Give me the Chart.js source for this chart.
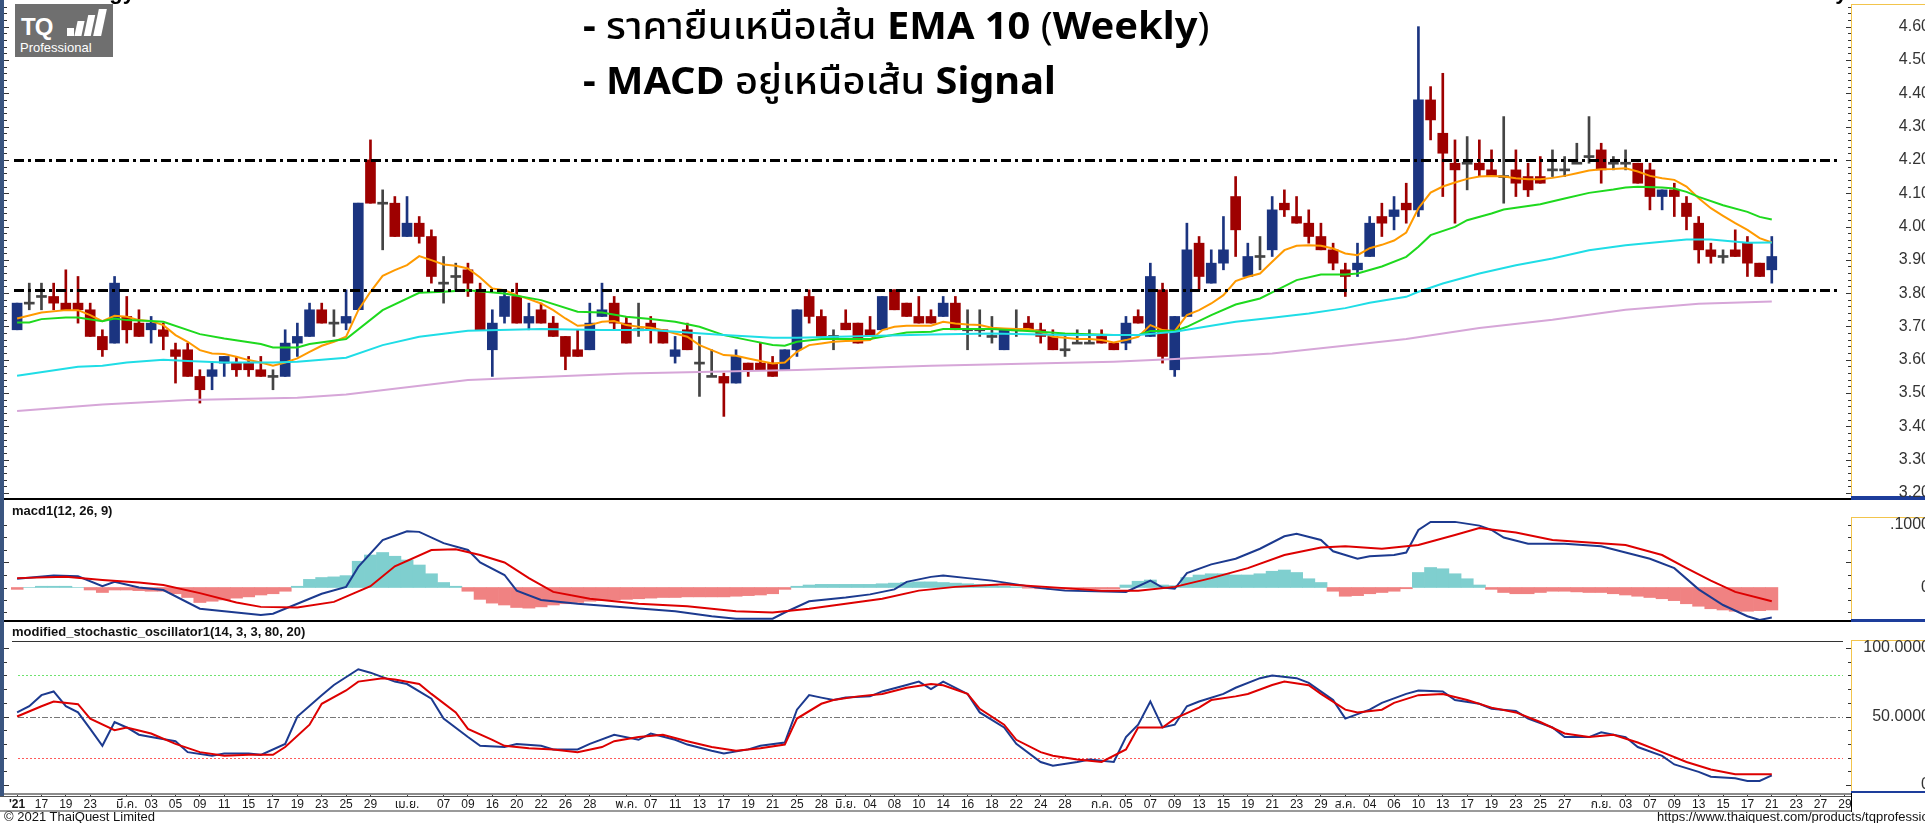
<!DOCTYPE html>
<html lang="th">
<head>
<meta charset="utf-8">
<title>TQ Professional chart</title>
<script src="https://cdn.jsdelivr.net/npm/chart.js@4.4.1/dist/chart.umd.min.js"></script>
<style>
  html, body { margin: 0; padding: 0; background: #fff; }
  body { width: 1925px; height: 823px; overflow: hidden; position: relative; font-family: Arial, "Liberation Sans", sans-serif; }
  .pane { position: absolute; left: 0; }
  .bar { position: absolute; }
  #strip { position: absolute; left: 0; top: 0; width: 4px; height: 796px; background: #3a5580; z-index: 5; }
  .plabel { position: absolute; left: 12px; font: bold 13px Arial, sans-serif; color: #111; white-space: nowrap; }
  .title { position: absolute; left: 583px; white-space: nowrap; font-family: "Noto Sans", "Noto Sans Thai", "Open Sans", sans-serif; font-size: 38px; line-height: 1.2; color: #000; transform-origin: 0 50%; }
  .title b { font-weight: 700; }
  .title .th { font-weight: 500; }
  .title .par { font-weight: 400; }
  .cut { position: absolute; font: bold 22px Arial, sans-serif; line-height: 22px; color: #000; white-space: nowrap; }
  #logo { position: absolute; left: 15px; top: 4px; width: 98px; height: 53px; background: #6f6f6f; overflow: hidden; }
  #tq { position: absolute; left: 6px; top: 9px; font: bold 24px Arial, sans-serif; color: #fff; letter-spacing: -1px; }
  #pro { position: absolute; left: 5px; top: 36px; font: 13px Arial, sans-serif; color: #fff; }
  .ib { position: absolute; background: #fff; }
  .foot { position: absolute; top: 809px; font: 13px Arial, sans-serif; color: #111; white-space: nowrap; }
</style>
</head>
<body>
<div id="strip"></div>

<div class="pane" style="top:0px"><canvas id="priceChart" width="1930" height="498"></canvas></div>
<div class="bar" style="left:0;top:498px;width:1851px;height:2px;background:#000"></div>
<div class="bar" style="left:1851px;top:498px;width:74px;height:2px;background:#1d3d9b"></div>

<div class="pane" style="top:501px"><canvas id="macdChart" width="1930" height="120"></canvas></div>
<div class="bar" style="left:0;top:620px;width:1851px;height:2px;background:#000"></div>
<div class="bar" style="left:1851px;top:620px;width:74px;height:2px;background:#1d3d9b"></div>

<div class="pane" style="top:622px"><canvas id="stochChart" width="1930" height="192"></canvas></div>

<div class="cut" style="left:47px;top:-19px">Strategy</div>
<div class="cut" style="left:1772px;top:-19px">Weekly</div>
<div id="logo">
  <span id="tq">TQ</span>
  <div class="ib" style="left:52px;top:24px;width:7px;height:8px"></div>
  <div class="ib" style="left:61px;top:17px;width:7px;height:15px;transform:skewX(-12deg)"></div>
  <div class="ib" style="left:71px;top:11px;width:7px;height:21px;transform:skewX(-12deg)"></div>
  <div class="ib" style="left:81px;top:5px;width:8px;height:27px;transform:skewX(-12deg)"></div>
  <span id="pro">Professional</span>
</div>
<div id="t1" class="title" style="top:2px"><b>- </b><span class="th">ราคายืนเหนือเส้น</span> <b>EMA 10</b> <span class="par">(</span><b>Weekly</b><span class="par">)</span></div>
<div id="t2" class="title" style="top:57px"><b>- MACD</b> <span class="th">อยู่เหนือเส้น</span> <b>Signal</b></div>

<div class="plabel" style="top:503px">macd1(12, 26, 9)</div>
<div class="plabel" style="top:624px">modified_stochastic_oscillator1(14, 3, 3, 80, 20)</div>

<div class="foot" style="left:4px">© 2021 ThaiQuest Limited</div>
<div class="foot" style="left:1657px">https://www.thaiquest.com/products/tqprofessional</div>

<script>
// trading days, Feb 15 - Sep 29 2021 (last six are future slots on the axis)
const tradingDays = [
  ['02', [15, 16, 17, 18, 19, 22, 23, 24, 25]],
  ['03', [1, 2, 3, 4, 5, 8, 9, 10, 11, 12, 15, 16, 17, 18, 19, 22, 23, 24, 25, 26, 29, 30, 31]],
  ['04', [1, 2, 5, 7, 8, 9, 12, 16, 19, 20, 21, 22, 23, 26, 27, 28, 29, 30]],
  ['05', [5, 6, 7, 10, 11, 12, 13, 14, 17, 18, 19, 20, 21, 24, 25, 27, 28, 31]],
  ['06', [1, 2, 4, 7, 8, 9, 10, 11, 14, 15, 16, 17, 18, 21, 22, 23, 24, 25, 28, 29, 30]],
  ['07', [1, 2, 5, 6, 7, 8, 9, 12, 13, 14, 15, 16, 19, 20, 21, 22, 23, 27, 29, 30]],
  ['08', [2, 3, 4, 5, 6, 9, 10, 11, 13, 16, 17, 18, 19, 20, 23, 24, 25, 26, 27, 30, 31]],
  ['09', [1, 2, 3, 6, 7, 8, 9, 10, 13, 14, 15, 16, 17, 20, 21, 22, 23, 24, 27, 28, 29]]
];

// date labels shown under the chart: [day index, text]
const dateTicks = [
  [0, "'21"], [2, '17'], [4, '19'], [6, '23'], [9, 'มี.ค.'], [11, '03'], [13, '05'], [15, '09'], [17, '11'],
  [19, '15'], [21, '17'], [23, '19'], [25, '23'], [27, '25'], [29, '29'], [32, 'เม.ย.'], [35, '07'], [37, '09'],
  [39, '16'], [41, '20'], [43, '22'], [45, '26'], [47, '28'], [50, 'พ.ค.'], [52, '07'], [54, '11'], [56, '13'],
  [58, '17'], [60, '19'], [62, '21'], [64, '25'], [66, '28'], [68, 'มิ.ย.'], [70, '04'], [72, '08'], [74, '10'],
  [76, '14'], [78, '16'], [80, '18'], [82, '22'], [84, '24'], [86, '28'], [89, 'ก.ค.'], [91, '05'], [93, '07'],
  [95, '09'], [97, '13'], [99, '15'], [101, '19'], [103, '21'], [105, '23'], [107, '29'], [109, 'ส.ค.'], [111, '04'],
  [113, '06'], [115, '10'], [117, '13'], [119, '17'], [121, '19'], [123, '23'], [125, '25'], [127, '27'],
  [130, 'ก.ย.'], [132, '03'], [134, '07'], [136, '09'], [138, '13'], [140, '15'], [142, '17'], [144, '21'],
  [146, '23'], [148, '27'], [150, '29']
];

// daily candles
const opens = [3.69, 3.77, 3.79, 3.79, 3.77, 3.77, 3.75, 3.67, 3.65, 3.73, 3.71, 3.69, 3.69, 3.63, 3.63, 3.55, 3.55, 3.59, 3.59, 3.59,
  3.57, 3.55, 3.55, 3.65, 3.67, 3.75, 3.71, 3.71, 3.75, 4.20, 4.07, 4.07, 3.97, 4.01, 3.97, 3.83, 3.85, 3.87, 3.81, 3.63,
  3.73, 3.79, 3.71, 3.75, 3.71, 3.67, 3.63, 3.63, 3.73, 3.77, 3.71, 3.69, 3.71, 3.69, 3.61, 3.69, 3.59, 3.55, 3.55, 3.53,
  3.59, 3.59, 3.59, 3.57, 3.63, 3.79, 3.73, 3.67, 3.71, 3.71, 3.69, 3.69, 3.81, 3.77, 3.73, 3.73, 3.73, 3.77, 3.69, 3.69,
  3.67, 3.63, 3.69, 3.71, 3.69, 3.67, 3.63, 3.65, 3.65, 3.67, 3.65, 3.65, 3.73, 3.67, 3.81, 3.57, 3.73, 3.95, 3.83, 3.89,
  4.09, 3.85, 3.91, 3.93, 4.07, 4.03, 4.01, 3.97, 3.93, 3.87, 3.87, 3.91, 4.03, 4.03, 4.07, 4.05, 4.38, 4.28, 4.19, 4.19,
  4.19, 4.17, 4.15, 4.17, 4.15, 4.15, 4.17, 4.17, 4.19, 4.21, 4.23, 4.19, 4.19, 4.19, 4.17, 4.09, 4.11, 4.07, 4.01, 3.93,
  3.91, 3.93, 3.95, 3.89, 3.87];
const highs = [3.77, 3.83, 3.83, 3.83, 3.87, 3.85, 3.77, 3.69, 3.85, 3.79, 3.75, 3.73, 3.71, 3.65, 3.65, 3.57, 3.59, 3.61, 3.61, 3.61,
  3.61, 3.57, 3.69, 3.71, 3.77, 3.77, 3.75, 3.81, 4.07, 4.26, 4.11, 4.09, 4.09, 4.03, 3.99, 3.91, 3.89, 3.89, 3.83, 3.75,
  3.81, 3.83, 3.77, 3.77, 3.73, 3.67, 3.69, 3.77, 3.83, 3.79, 3.73, 3.77, 3.73, 3.69, 3.67, 3.71, 3.67, 3.63, 3.56, 3.63,
  3.59, 3.65, 3.61, 3.63, 3.75, 3.81, 3.75, 3.69, 3.75, 3.71, 3.73, 3.79, 3.81, 3.77, 3.79, 3.75, 3.79, 3.79, 3.75, 3.75,
  3.73, 3.69, 3.75, 3.73, 3.71, 3.69, 3.67, 3.69, 3.69, 3.69, 3.65, 3.73, 3.75, 3.89, 3.83, 3.73, 4.01, 3.97, 3.93, 4.03,
  4.15, 3.95, 3.97, 4.09, 4.11, 4.09, 4.05, 4.01, 3.95, 3.89, 3.95, 4.03, 4.07, 4.09, 4.13, 4.60, 4.42, 4.46, 4.26, 4.27,
  4.26, 4.23, 4.33, 4.23, 4.19, 4.21, 4.23, 4.21, 4.25, 4.33, 4.25, 4.21, 4.23, 4.19, 4.19, 4.11, 4.13, 4.09, 4.03, 3.95,
  3.93, 3.99, 3.97, 3.89, 3.97];
const lows = [3.69, 3.75, 3.75, 3.75, 3.75, 3.71, 3.67, 3.61, 3.65, 3.65, 3.67, 3.65, 3.63, 3.53, 3.55, 3.47, 3.51, 3.55, 3.55, 3.55,
  3.55, 3.51, 3.55, 3.61, 3.67, 3.71, 3.67, 3.69, 3.75, 4.07, 3.93, 3.97, 3.97, 3.95, 3.83, 3.77, 3.81, 3.79, 3.69, 3.55,
  3.71, 3.71, 3.69, 3.71, 3.67, 3.57, 3.61, 3.63, 3.73, 3.69, 3.65, 3.67, 3.65, 3.65, 3.59, 3.63, 3.49, 3.55, 3.43, 3.53,
  3.55, 3.57, 3.55, 3.57, 3.61, 3.71, 3.67, 3.63, 3.69, 3.65, 3.67, 3.69, 3.75, 3.73, 3.71, 3.71, 3.73, 3.69, 3.63, 3.67,
  3.65, 3.63, 3.67, 3.69, 3.65, 3.63, 3.61, 3.65, 3.65, 3.65, 3.63, 3.63, 3.71, 3.67, 3.59, 3.55, 3.73, 3.81, 3.83, 3.87,
  3.91, 3.85, 3.87, 3.91, 4.03, 4.01, 3.95, 3.93, 3.87, 3.79, 3.85, 3.91, 3.97, 3.99, 4.01, 4.03, 4.26, 4.09, 4.01, 4.11,
  4.15, 4.15, 4.07, 4.09, 4.09, 4.13, 4.15, 4.15, 4.19, 4.19, 4.13, 4.17, 4.17, 4.13, 4.05, 4.05, 4.03, 3.99, 3.89, 3.89,
  3.89, 3.91, 3.85, 3.85, 3.83];
const closes = [3.77, 3.77, 3.79, 3.77, 3.75, 3.75, 3.67, 3.63, 3.83, 3.69, 3.67, 3.71, 3.67, 3.61, 3.55, 3.51, 3.57, 3.61, 3.57, 3.57,
  3.55, 3.55, 3.65, 3.67, 3.75, 3.71, 3.71, 3.73, 4.07, 4.07, 4.07, 3.97, 4.01, 3.97, 3.85, 3.83, 3.85, 3.83, 3.69, 3.71,
  3.79, 3.71, 3.73, 3.71, 3.67, 3.61, 3.61, 3.71, 3.75, 3.71, 3.65, 3.69, 3.69, 3.65, 3.63, 3.63, 3.59, 3.55, 3.53, 3.61,
  3.57, 3.57, 3.55, 3.63, 3.75, 3.73, 3.67, 3.67, 3.69, 3.65, 3.67, 3.79, 3.75, 3.73, 3.71, 3.71, 3.77, 3.69, 3.69, 3.69,
  3.67, 3.69, 3.69, 3.69, 3.67, 3.63, 3.63, 3.65, 3.65, 3.65, 3.63, 3.71, 3.71, 3.85, 3.61, 3.73, 3.93, 3.85, 3.89, 3.93,
  3.99, 3.91, 3.91, 4.05, 4.05, 4.01, 3.97, 3.93, 3.89, 3.85, 3.89, 4.01, 4.01, 4.05, 4.05, 4.38, 4.32, 4.22, 4.17, 4.19,
  4.17, 4.15, 4.15, 4.13, 4.11, 4.13, 4.17, 4.17, 4.19, 4.21, 4.17, 4.19, 4.19, 4.13, 4.09, 4.11, 4.09, 4.03, 3.93, 3.91,
  3.91, 3.91, 3.89, 3.85, 3.91];

// moving averages: [day index, value]
const emaOrange = [[0, 3.724], [2, 3.742], [4, 3.749], [5, 3.749], [6, 3.734], [7, 3.716], [8, 3.732], [9, 3.729], [10, 3.719],
  [11, 3.716], [12, 3.704], [13, 3.674], [14, 3.654], [15, 3.629], [16, 3.619], [17, 3.617], [18, 3.609], [19, 3.599], [20, 3.592],
  [21, 3.582], [22, 3.592], [23, 3.604], [24, 3.624], [25, 3.642], [26, 3.654], [27, 3.669], [28, 3.749], [29, 3.804], [30, 3.852],
  [31, 3.869], [32, 3.884], [33, 3.911], [34, 3.899], [35, 3.886], [36, 3.882], [37, 3.874], [38, 3.847], [39, 3.814], [40, 3.809],
  [41, 3.794], [42, 3.782], [43, 3.769], [44, 3.749], [45, 3.724], [46, 3.702], [47, 3.704], [48, 3.714], [49, 3.716], [50, 3.704],
  [51, 3.699], [52, 3.696], [53, 3.689], [54, 3.679], [55, 3.669], [56, 3.644], [57, 3.629], [58, 3.614], [59, 3.612], [60, 3.604],
  [61, 3.596], [62, 3.589], [63, 3.592], [64, 3.624], [65, 3.644], [66, 3.649], [67, 3.654], [68, 3.656], [69, 3.657], [70, 3.659],
  [71, 3.689], [72, 3.699], [73, 3.702], [74, 3.702], [75, 3.702], [76, 3.714], [77, 3.709], [78, 3.706], [79, 3.704], [80, 3.696],
  [81, 3.694], [82, 3.692], [83, 3.692], [84, 3.684], [85, 3.669], [86, 3.666], [87, 3.662], [88, 3.662], [89, 3.659], [90, 3.652],
  [91, 3.659], [92, 3.669], [93, 3.704], [94, 3.689], [95, 3.686], [96, 3.734], [97, 3.749], [98, 3.769], [99, 3.794], [100, 3.836],
  [101, 3.849], [102, 3.859], [103, 3.894], [104, 3.929], [105, 3.942], [106, 3.944], [107, 3.942], [108, 3.934], [109, 3.919],
  [110, 3.914], [111, 3.935], [112, 3.945], [113, 3.958], [114, 3.982], [115, 4.055], [116, 4.102], [117, 4.120], [118, 4.132],
  [119, 4.143], [120, 4.150], [121, 4.152], [122, 4.150], [123, 4.145], [124, 4.142], [125, 4.142], [126, 4.146], [127, 4.152],
  [128, 4.160], [129, 4.168], [130, 4.172], [131, 4.173], [132, 4.175], [133, 4.165], [134, 4.152], [135, 4.145], [136, 4.140],
  [137, 4.120], [138, 4.085], [139, 4.055], [140, 4.032], [141, 4.010], [142, 3.990], [143, 3.965], [144, 3.952]];
const emaGreen = [[0, 3.712], [1, 3.712], [2, 3.722], [4, 3.727], [5, 3.727], [7, 3.716], [8, 3.724], [9, 3.719], [11, 3.716],
  [12, 3.714], [15, 3.677], [17, 3.664], [20, 3.647], [21, 3.637], [23, 3.637], [24, 3.647], [27, 3.662], [30, 3.749], [33, 3.801],
  [35, 3.804], [37, 3.809], [40, 3.799], [43, 3.779], [46, 3.744], [48, 3.742], [50, 3.729], [52, 3.722], [54, 3.714], [56, 3.699],
  [58, 3.674], [60, 3.659], [62, 3.644], [63, 3.642], [64, 3.654], [66, 3.662], [68, 3.662], [70, 3.662], [71, 3.669], [73, 3.682],
  [75, 3.684], [76, 3.692], [80, 3.692], [84, 3.684], [86, 3.679], [90, 3.674], [92, 3.674], [93, 3.686], [95, 3.686], [96, 3.699],
  [98, 3.734], [100, 3.766], [102, 3.784], [103, 3.802], [105, 3.839], [107, 3.856], [109, 3.856], [110, 3.859], [112, 3.880],
  [114, 3.909], [115, 3.939], [116, 3.974], [118, 3.999], [119, 4.019], [121, 4.039], [122, 4.051], [125, 4.067], [127, 4.084],
  [129, 4.101], [131, 4.111], [132, 4.117], [133, 4.119], [135, 4.117], [136, 4.114], [137, 4.104], [138, 4.089], [140, 4.064],
  [142, 4.044], [143, 4.029], [144, 4.021]];
const emaCyan = [[0, 3.552], [5, 3.579], [7, 3.582], [9, 3.592], [12, 3.600], [14, 3.596], [17, 3.592], [21, 3.592], [23, 3.594],
  [27, 3.606], [30, 3.644], [33, 3.669], [37, 3.687], [43, 3.692], [48, 3.689], [52, 3.689], [58, 3.674], [62, 3.666], [64, 3.666],
  [75, 3.676], [80, 3.679], [86, 3.674], [92, 3.674], [95, 3.684], [100, 3.714], [103, 3.726], [106, 3.739], [109, 3.755],
  [111, 3.771], [114, 3.789], [115, 3.804], [117, 3.829], [120, 3.859], [123, 3.884], [126, 3.904], [129, 3.929], [132, 3.944],
  [135, 3.954], [137, 3.961], [139, 3.961], [142, 3.951], [144, 3.952]];
const emaPlum = [[0, 3.446], [7, 3.466], [14, 3.479], [23, 3.486], [27, 3.496], [37, 3.539], [50, 3.559], [64, 3.569], [75, 3.582],
  [90, 3.594], [95, 3.602], [103, 3.619], [111, 3.650], [114, 3.662], [120, 3.695], [126, 3.720], [132, 3.750], [138, 3.768],
  [144, 3.775]];
const levelLines = [4.20, 3.81];
const priceTicks = [3.2, 3.3, 3.4, 3.5, 3.6, 3.7, 3.8, 3.9, 4.0, 4.1, 4.2, 4.3, 4.4, 4.5, 4.6];

// MACD(12, 26, 9)
const macdLine = [[0, 0.014], [3, 0.019], [5, 0.018], [7, 0.002], [8, 0.009], [10, 0.000], [12, -0.004], [15, -0.034], [18, -0.040],
  [20, -0.044], [21, -0.042], [23, -0.026], [25, -0.010], [27, 0.001], [28, 0.033], [30, 0.076], [32, 0.090], [33, 0.089],
  [35, 0.071], [37, 0.060], [38, 0.040], [40, 0.020], [41, -0.005], [43, -0.020], [46, -0.026], [50, -0.032], [54, -0.038],
  [57, -0.046], [59, -0.050], [62, -0.050], [63, -0.040], [65, -0.022], [68, -0.016], [70, -0.011], [72, -0.003], [73, 0.009],
  [75, 0.017], [76, 0.019], [78, 0.015], [80, 0.011], [82, 0.005], [84, -0.001], [86, -0.005], [91, -0.007], [93, 0.011],
  [94, 0.000], [95, -0.002], [96, 0.023], [98, 0.037], [100, 0.046], [102, 0.062], [104, 0.082], [105, 0.086], [107, 0.076],
  [108, 0.058], [110, 0.046], [111, 0.050], [113, 0.052], [114, 0.056], [115, 0.092], [116, 0.105], [118, 0.105], [120, 0.099],
  [121, 0.092], [122, 0.080], [124, 0.070], [127, 0.070], [130, 0.066], [132, 0.056], [134, 0.046], [136, 0.031], [138, -0.003],
  [140, -0.028], [142, -0.046], [143, -0.052], [144, -0.048]];
const signalLine = [[0, 0.015], [4, 0.017], [7, 0.012], [10, 0.008], [12, 0.004], [15, -0.009], [18, -0.024], [20, -0.031],
  [23, -0.032], [26, -0.023], [29, 0.002], [31, 0.034], [34, 0.060], [36, 0.061], [38, 0.052], [40, 0.040], [42, 0.015],
  [44, -0.007], [47, -0.018], [51, -0.026], [55, -0.030], [59, -0.038], [62, -0.040], [65, -0.034], [68, -0.026], [71, -0.018],
  [74, -0.005], [77, 0.001], [81, 0.005], [86, -0.001], [89, -0.005], [92, -0.005], [95, 0.001], [98, 0.015], [101, 0.031],
  [104, 0.052], [107, 0.064], [109, 0.066], [112, 0.062], [115, 0.068], [118, 0.084], [120, 0.095], [123, 0.088], [126, 0.076],
  [129, 0.072], [132, 0.068], [135, 0.052], [137, 0.031], [139, 0.011], [141, -0.007], [144, -0.022]];
const macdHist = [-0.003, 0, 0.002, 0.002, 0.002, 0, -0.004, -0.008, -0.004, -0.004, -0.005, -0.006, -0.006, -0.010, -0.016,
  -0.024, -0.022, -0.020, -0.017, -0.015, -0.012, -0.010, -0.006, 0.002, 0.013, 0.016, 0.017, 0.019, 0.042, 0.052, 0.056, 0.050,
  0.044, 0.036, 0.022, 0.008, 0.002, -0.006, -0.019, -0.025, -0.028, -0.032, -0.033, -0.031, -0.028, -0.026, -0.024, -0.022,
  -0.021, -0.020, -0.019, -0.018, -0.017, -0.016, -0.016, -0.015, -0.015, -0.015, -0.015, -0.014, -0.013, -0.012, -0.010,
  -0.003, 0.002, 0.004, 0.005, 0.005, 0.005, 0.005, 0.005, 0.006, 0.007, 0.008, 0.009, 0.009, 0.008, 0.007, 0.006, 0.005, 0.004,
  0.002, 0.001, -0.001, -0.002, -0.003, -0.003, -0.003, -0.002, -0.002, -0.002, 0.004, 0.010, 0.012, 0.004, 0.003, 0.016, 0.020,
  0.022, 0.022, 0.020, 0.020, 0.022, 0.026, 0.028, 0.024, 0.014, 0.008, -0.006, -0.014, -0.013, -0.010, -0.008, -0.006, -0.002,
  0.024, 0.032, 0.030, 0.022, 0.014, 0.004, -0.003, -0.008, -0.010, -0.010, -0.008, -0.006, -0.006, -0.007, -0.008, -0.008,
  -0.010, -0.012, -0.014, -0.016, -0.018, -0.021, -0.026, -0.030, -0.034, -0.036, -0.038, -0.038, -0.037, -0.036];
const macdTicks = [0, 0.1];
const macdTickText = ['0', '.1000'];

// modified stochastic (14, 3, 3, 80, 20)
const stochK = [[0, 53], [1, 57.5], [2, 65.6], [3, 68.3], [4, 57.5], [5, 53], [6, 41], [7, 28.6], [8, 46], [9, 42], [10, 36.7],
  [11, 35], [13, 32], [14, 24], [16, 21.3], [17, 23], [19, 23], [20, 22], [22, 30], [23, 50], [25, 65.6], [26, 73], [28, 84.5],
  [29, 82], [31, 75.5], [32, 73.7], [34, 63], [35, 48.5], [37, 35], [38, 28.6], [40, 27.7], [41, 30], [43, 28.6], [44, 26],
  [46, 26], [47, 30], [49, 36.7], [51, 33], [52, 37.6], [54, 33], [55, 29.5], [57, 25], [58, 23], [60, 26], [61, 28.6], [63, 31],
  [64, 55], [65, 65.6], [66, 63.8], [67, 62], [68, 63.8], [70, 64.7], [71, 68.3], [73, 73], [74, 75.5], [75, 70], [76, 75.5],
  [78, 66.5], [79, 53], [81, 42], [82, 30], [84, 16.8], [85, 14], [87, 16.8], [88, 18.6], [90, 16.8], [91, 35], [92, 44],
  [93, 61], [94, 42], [95, 44], [96, 57.5], [97, 61], [99, 66.5], [100, 71], [102, 78], [103, 80], [105, 78], [106, 74.6],
  [108, 62], [109, 48.5], [111, 55], [112, 60], [114, 66.5], [115, 69], [117, 68.3], [118, 62], [120, 59.3], [121, 55.6],
  [123, 54], [124, 48.5], [126, 42], [127, 35], [129, 35], [130, 38.5], [132, 35], [133, 27.7], [135, 21.3], [136, 15],
  [138, 9.6], [139, 6], [141, 5], [142, 3], [143, 3], [144, 7]];
const stochD = [[0, 50], [2, 57.5], [3, 61], [5, 59], [6, 48.5], [8, 40], [9, 42], [11, 37.6], [13, 30], [15, 24], [17, 21.3],
  [19, 22], [21, 22], [22, 27.7], [24, 44], [25, 59.3], [27, 69], [28, 75.5], [30, 78], [31, 77], [33, 73.7], [34, 66.5],
  [36, 53], [37, 41], [39, 33], [40, 28.6], [42, 26.8], [44, 26], [46, 24], [48, 27.7], [49, 32], [51, 35], [53, 36.7],
  [55, 32], [57, 27.7], [59, 25], [61, 26.8], [63, 29.5], [64, 48.5], [66, 59.3], [67, 62], [69, 64.7], [71, 66.5], [73, 71],
  [75, 73.7], [76, 72.8], [78, 66.5], [79, 55.6], [81, 44], [82, 33], [84, 24], [85, 21.3], [87, 18.6], [89, 16.8], [91, 26],
  [92, 42], [94, 42], [95, 48.5], [97, 56.5], [98, 62], [100, 64.7], [101, 66.5], [103, 73], [104, 75.5], [106, 72.8],
  [107, 66.5], [109, 55], [110, 53], [112, 55], [113, 60], [115, 65.6], [117, 66.5], [119, 62], [121, 56.5], [123, 53],
  [125, 46], [127, 37.6], [129, 35], [131, 36.7], [133, 31], [135, 24], [137, 16.8], [139, 11.3], [141, 7.8], [144, 7.8]];
const stochTicks = [0, 50, 100];
const stochTickText = ['0', '50.0000', '100.0000'];
const stochBands = [80, 50, 20];

// ---------------------------------------------------------------
const days = tradingDays.flatMap(([m, ds]) => ds.map(d => String(d).padStart(2, '0') + '/' + m));
const dateText = new Array(days.length).fill('');
dateTicks.forEach(([i, t]) => { dateText[i] = t; });

function sparse(pairs) {
  const out = new Array(days.length).fill(null);
  pairs.forEach(([i, v]) => { out[i] = v; });
  return out;
}

const UP = '#1b3480', DOWN = '#9e0000', FLAT = '#444444';
const candleColor = opens.map((o, i) => closes[i] > o ? UP : (closes[i] < o ? DOWN : FLAT));
const bodies = opens.map((o, i) => o === closes[i] ? [o - 0.003, o + 0.003] : [o, closes[i]]);
const wicks = lows.map((l, i) => [l, highs[i]]);

const AXIS_W = 79;
const fixY = s => { s.width = AXIS_W; s.paddingTop = 0; s.paddingBottom = 0; };

// frame, value box, ticks and guide lines of each panel
const panelDeco = {
  id: 'panelDeco',
  beforeDatasetsDraw(chart, args, o) {
    const { ctx, scales: { y } } = chart;
    ctx.save();
    (o.bands || []).forEach(b => {
      const py = Math.round(y.getPixelForValue(b.value)) + 0.5;
      ctx.strokeStyle = b.color; ctx.lineWidth = 1; ctx.setLineDash(b.dash);
      ctx.beginPath(); ctx.moveTo(18, py); ctx.lineTo(1843, py); ctx.stroke();
    });
    ctx.restore();
  },
  afterDatasetsDraw(chart, args, o) {
    const { ctx, scales: { y } } = chart;
    ctx.save();
    (o.levels || []).forEach(v => {
      const py = Math.round(y.getPixelForValue(v)) + 0.5;
      ctx.strokeStyle = '#000'; ctx.lineWidth = 3; ctx.setLineDash([10, 4, 3, 4]);
      ctx.beginPath(); ctx.moveTo(14, py); ctx.lineTo(1838, py); ctx.stroke();
    });
    ctx.restore();
  },
  afterDraw(chart, args, o) {
    const { ctx, chartArea: a, scales: { y }, width } = chart;
    ctx.save();
    ctx.setLineDash([]);
    if (o.topRule) { ctx.fillStyle = '#333'; ctx.fillRect(12, o.boxTop + 1, 1843 - 12, 1); }
    ctx.fillStyle = '#f2c44c';
    ctx.fillRect(a.right, o.boxTop, 1, a.bottom - o.boxTop);
    ctx.fillRect(a.right, o.boxTop, width - a.right, 1);
    ctx.fillStyle = '#1d3d9b';
    ctx.fillRect(a.right, a.bottom - 2, width - a.right, 2);
    ctx.fillStyle = '#333';
    const n = Math.round((o.tickMax - o.tickMin) / o.minor);
    for (let k = 0; k <= n; k++) {
      const py = Math.round(y.getPixelForValue(o.tickMin + k * o.minor));
      if (py < o.boxTop + 2 || py > a.bottom - 2) continue;
      const len = k % o.every === 0 ? 5 : 3;
      ctx.fillRect(a.right - len, py, len, 1);
      ctx.fillRect(4, py, len, 1);
    }
    ctx.font = '16px Arial, "Liberation Sans", sans-serif';
    ctx.fillStyle = '#333'; ctx.textAlign = 'right'; ctx.textBaseline = 'middle';
    o.ticks.forEach((v, k) => ctx.fillText(o.tickText[k], 1930, y.getPixelForValue(v)));
    if (o.dateAxis) {
      ctx.fillStyle = '#8c8c8c'; ctx.fillRect(0, a.bottom, a.right, 2);
      ctx.fillStyle = '#555'; ctx.fillRect(0, a.bottom + 3, a.right, 1);
      ctx.fillStyle = '#9a9a9a'; ctx.fillRect(0, a.bottom + 17, a.right, 2);
      ctx.fillStyle = '#000'; ctx.fillRect(a.right, a.bottom, 1, 19);
    }
    ctx.restore();
  }
};

const common = {
  responsive: false,
  animation: false,
  layout: { padding: { left: 11, right: 0, top: 0, bottom: 0 } },
  plugins: { legend: { display: false }, tooltip: { enabled: false } }
};
const hiddenX = { type: 'category', offset: true, display: false, grid: { display: false } };
const yBase = { position: 'right', grid: { display: false }, border: { display: false }, ticks: { display: false }, afterFit: fixY };
const line = (data, color, width) => ({ type: 'line', data, borderColor: color, borderWidth: width, pointRadius: 0, spanGaps: true, tension: 0, order: 0 });

// price panel
new Chart(document.getElementById('priceChart'), {
  type: 'bar',
  data: {
    labels: days,
    datasets: [
      line(sparse(emaPlum), '#d6a6d8', 2),
      line(sparse(emaCyan), '#1fdde6', 2),
      line(sparse(emaGreen), '#1ed91e', 2),
      line(sparse(emaOrange), '#ff9a00', 2),
      { type: 'bar', data: bodies, backgroundColor: candleColor, barThickness: 10, grouped: false, order: 1 },
      { type: 'bar', data: wicks, backgroundColor: candleColor, barThickness: 2, grouped: false, order: 2 }
    ]
  },
  options: {
    ...common,
    plugins: { ...common.plugins, panelDeco: { boxTop: 4, levels: levelLines, ticks: priceTicks, tickText: priceTicks.map(v => v.toFixed(2)), tickMin: 3.2, tickMax: 4.66, minor: 0.02, every: 5 } },
    scales: { x: hiddenX, y: { ...yBase, min: 3.185, max: 4.68 } }
  },
  plugins: [panelDeco]
});

// MACD panel
new Chart(document.getElementById('macdChart'), {
  type: 'bar',
  data: {
    labels: days,
    datasets: [
      line(sparse(signalLine), '#dd0000', 2),
      line(sparse(macdLine), '#1c3a8f', 2),
      { type: 'bar', data: macdHist, backgroundColor: macdHist.map(v => v >= 0 ? '#7fcfcf' : '#f08282'), barPercentage: 1, categoryPercentage: 1, order: 1 }
    ]
  },
  options: {
    ...common,
    plugins: { ...common.plugins, panelDeco: { boxTop: 16, ticks: macdTicks, tickText: macdTickText, tickMin: -0.06, tickMax: 0.14, minor: 0.02, every: 5 } },
    scales: { x: hiddenX, y: { ...yBase, min: -0.0536, max: 0.1384 } }
  },
  plugins: [panelDeco]
});

// stochastic panel with the date axis
new Chart(document.getElementById('stochChart'), {
  type: 'line',
  data: {
    labels: days,
    datasets: [
      line(sparse(stochD), '#dd0000', 2),
      line(sparse(stochK), '#1c3a8f', 2)
    ]
  },
  options: {
    ...common,
    plugins: {
      ...common.plugins,
      panelDeco: {
        boxTop: 18, topRule: true, dateAxis: true, ticks: stochTicks, tickText: stochTickText, tickMin: 0, tickMax: 110, minor: 10, every: 5,
        bands: [
          { value: stochBands[0], color: '#6ee36e', dash: [2, 2] },
          { value: stochBands[1], color: '#777777', dash: [6, 2, 2, 2] },
          { value: stochBands[2], color: '#ff5a5a', dash: [2, 2] }
        ]
      }
    },
    scales: {
      x: {
        type: 'category', offset: true,
        grid: { display: true, offset: false, drawOnChartArea: false, drawTicks: true, tickLength: 3, color: 'rgba(0,0,0,0)',
          tickColor: c => dateText[c.index] ? '#333' : 'rgba(0,0,0,0)' },
        border: { display: false },
        ticks: {
          autoSkip: false, maxRotation: 0, minRotation: 0, padding: 1, color: '#1a1a1a',
          font: c => ({ family: 'Arial, "Noto Sans Thai", "Noto Sans", sans-serif', size: 12, weight: c.index === 0 ? 'bold' : 'normal' }),
          callback: (v, i) => dateText[i]
        },
        afterFit: s => { s.height = 21; s.paddingLeft = 0; s.paddingRight = 0; }
      },
      y: { ...yBase, min: -5.84, max: 119.0 }
    }
  },
  plugins: [panelDeco]
});

// squeeze the headline lines to the widths they take in the picture
function fitWidth(id, w) {
  const el = document.getElementById(id);
  el.style.transform = 'scaleX(' + (w / el.scrollWidth) + ')';
}
fitWidth('t1', 626);
fitWidth('t2', 473);
</script>
</body>
</html>
